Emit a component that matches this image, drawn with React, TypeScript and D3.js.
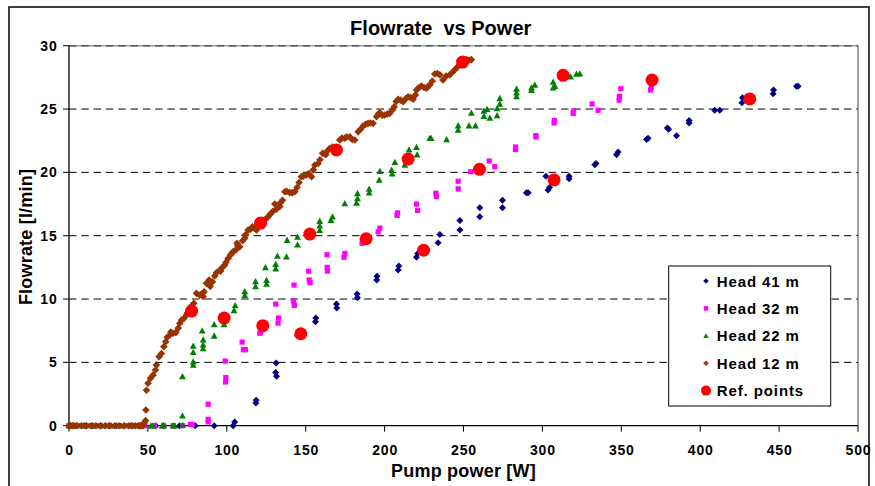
import React from "react";
import * as d3 from "d3";

// ---- data (power W, flowrate l/min) ----
const head41: [number, number][] = [
  [0,0],[2,0],[5,0],[10,0],[15,0],[20,0],[25,0],[30,0],[35,0],[40,0],[45,0],[55,0],[60,0],[70,0],[80,0],[92,0],[104,0],[105,0.3],
  [118.4,1.8],[118.6,2.0],[131.3,4.95],[131,4.2],[131.5,3.9],[144.8,7.1],[145.5,7.3],[156.2,8.2],[156.4,8.5],[169.7,9.3],[169.5,9.6],
  [182.8,10.1],[182.6,10.4],[195,11.5],[195.2,11.8],[208.6,12.3],[209,12.6],[220.2,13.3],[221,13.6],[233.9,14.45],[235,15.1],
  [247.7,15.45],[247.7,16.2],[260.3,16.5],[260.3,17.2],[274.7,17.2],[274.7,17.8],[289.9,18.4],[291,18.4],[302.2,19.7],[303.6,18.6],
  [304.5,18.8],[316.9,19.5],[316.9,19.7],[333.2,20.6],[334,20.7],[347,21.4],[348,21.6],[366,22.6],[367,22.7],[379.2,23.5],[380,23.4],
  [385,22.9],[393,23.9],[393,24.1],[409.2,24.9],[412.4,24.9],[426.4,25.5],[426.8,25.9],[446.2,26.2],[446.5,26.5],[461,26.8],[462,26.8],
];

const head32: [number, number][] = [
  [0,0],[3,0],[6,0],[12,0],[18,0],[24,0],[30,0],[36,0],[42,0],[48,0],[54,0],[60,0],[66,0],[72,0],[77,0.1],[78,0.1],
  [88.2,0.3],[88.2,0.5],[88.2,1.7],[99,5.1],[99.4,3.8],[99.2,3.45],[109.7,6.6],[110.5,6.0],[111.8,6.0],[120.9,7.3],[121.5,7.4],
  [131,9.6],[132.8,8.5],[132.5,8.1],[142.6,11.1],[142.2,9.85],[142.8,9.5],[151.8,12.2],[152.2,11.5],[152.8,11.3],[163.5,13.5],
  [163.6,12.5],[163.8,12.2],[174.3,13.3],[174.8,13.6],[185.7,14.4],[186.4,14.5],[195.9,15.3],[197,15.6],[207.9,16.6],[208.2,16.8],
  [220.2,17.5],[220.9,17.0],[232.5,18.35],[232.8,18.1],[246.6,19.3],[246.6,18.7],[254.6,20.05],[266.3,20.9],[269.8,20.45],
  [282.9,21.8],[283,22.0],[295.8,22.9],[296,22.8],[307.4,23.9],[307.6,24.1],[319.5,24.65],[319.8,24.85],[331.5,25.4],[335.3,24.9],
  [348.6,25.7],[348.8,26.0],[349.7,26.6],[368.5,26.5],[369,26.7],
];

const head22: [number, number][] = [
  [0,0],[4,0],[9,0],[15,0],[21,0],[27,0],[33,0],[39,0],[45,0],[52,0],[53,0],[59,0],[60,0],[66,0],[67,0],[72,0.05],
  [71.9,0.8],[71.9,3.9],[78.7,4.8],[78.7,5.05],[78.7,5.8],[78.7,6.3],[84.4,7.5],[85,6.8],[85,6.4],[85,6.1],[92,8.0],[92,7.1],
  [98.3,8.0],[104.6,9.1],[105.3,9.5],[111.4,10.6],[111.4,10.3],[118.2,11.4],[118.2,11.0],[124.5,12.5],[125.2,11.5],[125.2,11.2],
  [131,12.75],[131,12.4],[132.1,13.4],[137.8,13.35],[138.2,14.66],[144.8,14.9],[144.8,14.3],[152.6,15.2],[158.9,16.16],[158.9,15.8],
  [158.9,15.45],[167,16.5],[166,16.24],[174.8,17.55],[182.2,17.6],[182.8,18.35],[182.8,17.95],[190.2,18.7],[190.2,18.4],[197,20.1],
  [196.6,19.4],[204.4,20.2],[206.5,20.8],[204.8,19.9],[212.8,20.6],[215.5,21.8],[220.2,22.0],[220.6,21.4],[228.6,22.7],[229.5,22.7],
  [239.3,22.6],[246.6,23.7],[246.6,23.35],[253.5,23.7],[257.6,23.7],[255,24.7],[262.9,24.45],[262.9,24.85],[266.7,24.3],[264.9,25.0],
  [271.3,24.5],[271.3,25.05],[273,25.85],[273,25.4],[283.6,26.6],[283.6,26.0],[283.6,26.3],[293.1,26.7],[293.1,26.5],[295.2,26.9],
  [306.8,27.15],[306.8,26.7],[307.9,26.8],[317.8,27.55],[321.6,27.77],[323.7,27.8],
];

const head12: [number, number][] = [
  [0,0],[1,0],[2,0],[3,0],[5,0],[8,0],[11,0],[14,0],[17,0],[20,0],[23,0],[26,0],[29,0],[32,0],[35,0],[38,0],[40,0],[42,0],[44,0],
  [45,0],[46,0],[47,0],[47.5,0.2],[48.5,0.4],[48.7,1.24],[49.1,2.8],[50.1,3.35],[51.6,3.74],[53.3,4.0],[54.8,4.4],[55.4,4.8],
  [57.1,5.45],[58.6,5.7],[60.1,6.24],[61.3,6.63],[62.2,6.98],[63.9,7.16],[64.5,7.4],[66,7.3],[67.7,7.35],[69.2,7.7],[70.2,8.08],
  [71.3,8.34],[72.8,8.47],[74.5,8.74],[75,8.9],[76.1,9.13],[77.6,9.45],[78,9.3],[79.1,9.66],[80.8,10.45],[82.9,10.3],[84,10.4],
  [85,10.2],[85.6,10.58],[87.1,11.24],[88.8,11.5],[89.5,11.0],[90.9,11.37],[92.4,11.82],[93.4,12.08],[95.6,12.3],[96,12.2],
  [97.3,12.5],[98.7,12.69],[99.5,12.9],[100.8,13.2],[102.3,13.48],[103,13.6],[104,13.74],[105.7,13.87],[106.5,14.4],[107,14.2],
  [108.2,14.13],[110,14.6],[111.4,14.8],[112,15.1],[113.5,15.45],[115,15.5],[116.3,15.7],[117.5,15.6],[118.8,15.45],[120,15.7],
  [121.5,15.9],[123,16.0],[124.5,16.3],[126.2,16.5],[127.5,16.7],[129,16.9],[130.4,17.5],[131.5,17.1],[133.6,17.3],[134,17.6],
  [135.3,17.8],[136.8,18.47],[138,18.5],[139.9,18.4],[141.5,18.4],[143.1,18.47],[144.5,18.8],[145.8,19.2],[147.3,19.66],[148.5,19.7],
  [150.5,19.8],[152,19.9],[153.7,19.66],[154.8,20.2],[155.8,20.58],[157.9,20.7],[159,21.0],[160.7,21.5],[162.7,21.4],[163.8,21.7],
  [165.3,21.9],[167,22.0],[168.5,21.7],[170.5,21.8],[171.6,22.55],[173,22.7],[174.8,22.7],[176,22.8],[178,22.8],[179.5,22.6],
  [181.1,22.55],[183.2,23.2],[184.8,23.4],[186.4,23.66],[188,23.8],[189.5,23.87],[191,23.9],[192.7,23.87],[194.9,24.4],[196,24.6],
  [197,24.7],[198.5,24.5],[200.1,24.53],[201.7,24.6],[203.3,24.66],[204.7,24.9],[206.1,25.18],[207.3,25.6],[208.6,25.77],[210.2,25.7],
  [211.8,25.58],[213.3,25.8],[214.9,25.97],[216.5,25.9],[218.1,25.77],[219.5,26.1],[220.2,26.5],[221.8,26.7],[223.4,26.82],[225,26.7],
  [226.6,26.64],[227.6,26.8],[228.6,26.9],[230.2,27.2],[231.8,27.77],[233.4,27.8],[235,27.7],[237,27.3],[239,27.6],[241.3,27.7],
  [243,27.9],[244.5,28.1],[246,28.3],[247.7,28.5],[249.5,28.7],[251.9,28.9],[253.5,28.85],[255,28.9],
];

const refPoints: [number, number][] = [
  [77.7,9.05],[98.3,8.5],[122.8,7.9],[146.9,7.26],[121.4,16.0],[152.6,15.13],[188.3,14.76],[224.7,13.85],
  [169.5,21.77],[214.9,21.05],[260.1,20.24],[307.4,19.4],[249.4,28.71],[313.1,27.66],[369.5,27.29],[431.4,25.8],
];

const xTicks = [0, 50, 100, 150, 200, 250, 300, 350, 400, 450, 500];
const yTicks = [0, 5, 10, 15, 20, 25, 30];
const gridValues = [5, 10, 15, 20, 25];

const legendLabels = ["Head 41 m", "Head 32 m", "Head 22 m", "Head 12 m", "Ref. points"];
const chartTitle = "Flowrate  vs Power";
const xTitle = "Pump power [W]";
const yTitle = "Flowrate [l/min]";

// ---- layout ----
const W = 875;
const H = 486;
const PL = 69, PR = 858, PT = 45.7, PB = 425.7;
const FONT = "'Liberation Sans', Arial, Helvetica, sans-serif";

type Shape = "diamond" | "square" | "triangle" | "circle";

function markerPath(shape: Shape, s: number): string {
  const h = s / 2;
  if (shape === "diamond") return `M0,${-h}L${h},0L0,${h}L${-h},0Z`;
  if (shape === "square") return `M${-h},${-h}H${h}V${h}H${-h}Z`;
  if (shape === "triangle") return `M0,${-h}L${h},${h * 0.85}L${-h},${h * 0.85}Z`;
  return d3.arc()({ innerRadius: 0, outerRadius: h, startAngle: 0, endAngle: 2 * Math.PI }) as string;
}

const series = [
  { data: head41, color: "#000080", shape: "diamond" as Shape, size: 7, lsize: 5.5 },
  { data: head32, color: "#FF00FF", shape: "square" as Shape, size: 5.2, lsize: 4.5 },
  { data: head22, color: "#008000", shape: "triangle" as Shape, size: 6.8, lsize: 5.2 },
  { data: head12, color: "#993300", shape: "diamond" as Shape, size: 7.6, lsize: 5.5 },
  { data: refPoints, color: "#FF0000", shape: "circle" as Shape, size: 13, lsize: 10 },
];

export default function App() {
  const x = d3.scaleLinear().domain([0, 500]).range([PL, PR]);
  const y = d3.scaleLinear().domain([0, 30]).range([PB, PT]);

  const legX = 668.7, legY = 266, legW = 162, legH = 140;
  const legRow = 27.4;

  return (
    <svg
      width={W}
      height={H}
      style={{ position: "absolute", left: 0, top: 0, display: "block", background: "#fff" }}
    >
      <rect x={0} y={0} width={W} height={H} fill="#fff" />
      {/* outer chart border */}
      <rect x={9} y={7} width={860} height={500} fill="none" stroke="#111" strokeWidth={1.6} />

      {/* title */}
      <text
        x={440.7}
        y={34.7}
        textAnchor="middle"
        fontFamily={FONT}
        fontWeight="bold"
        fontSize={20}
        style={{ whiteSpace: "pre" }}
      >
        {chartTitle}
      </text>

      {/* plot area border (gray) */}
      <line x1={PR} x2={PR} y1={PT} y2={PB} stroke="#808080" strokeWidth={1.5} />
      <line x1={PL} x2={PR} y1={PT} y2={PT} stroke="#9a9a9a" strokeWidth={1.5} />
      <line x1={PL} x2={PR} y1={y(30)} y2={y(30)} stroke="#555" strokeWidth={1.5} strokeDasharray="7.5,4.8" />

      {/* gridlines */}
      {gridValues.map((v) => (
        <line key={v} x1={PL} x2={PR} y1={y(v)} y2={y(v)} stroke="#000" strokeWidth={1} strokeDasharray="7.5,4.8" />
      ))}

      {/* axes */}
      <line x1={PL} x2={PL} y1={PT} y2={PB} stroke="#000" strokeWidth={1.3} />
      <line x1={PL} x2={PR} y1={PB} y2={PB} stroke="#000" strokeWidth={1.3} />
      {yTicks.map((v) => (
        <g key={"y" + v}>
          <line x1={PL - 6} x2={PL} y1={y(v)} y2={y(v)} stroke="#000" strokeWidth={1} />
          <text x={57.5} y={y(v) + 5} textAnchor="end" fontFamily={FONT} fontWeight="bold" fontSize={14} letterSpacing={0.8}>
            {v}
          </text>
        </g>
      ))}
      {xTicks.map((v) => (
        <g key={"x" + v}>
          <line x1={x(v)} x2={x(v)} y1={PB} y2={PB + 6} stroke="#000" strokeWidth={1} />
          <text x={x(v) + 0.5} y={455} textAnchor="middle" fontFamily={FONT} fontWeight="bold" fontSize={14} letterSpacing={0.8}>
            {v}
          </text>
        </g>
      ))}

      {/* axis titles */}
      <text x={(PL + PR) / 2} y={477.3} textAnchor="middle" fontFamily={FONT} fontWeight="bold" fontSize={18} letterSpacing={0.2}>
        {xTitle}
      </text>
      <text
        transform={`translate(31.5,${237}) rotate(-90)`}
        textAnchor="middle"
        fontFamily={FONT}
        fontWeight="bold"
        fontSize={18}
        letterSpacing={0.2}
      >
        {yTitle}
      </text>

      {/* data */}
      {series.map((s, i) => (
        <g key={"s" + i} fill={s.color}>
          {s.data.map((d, j) => (
            <path key={j} d={markerPath(s.shape, s.size)} transform={`translate(${x(d[0])},${y(d[1])})`} />
          ))}
        </g>
      ))}

      {/* legend */}
      <rect x={legX} y={legY} width={legW} height={legH} fill="#fff" stroke="#000" strokeWidth={1} />
      {series.map((s, i) => {
        const cy = legY + 15 + i * legRow;
        return (
          <g key={"l" + i}>
            <path d={markerPath(s.shape, s.lsize)} transform={`translate(706,${cy})`} fill={s.color} />
            <text x={716.7} y={cy + 5.5} fontFamily={FONT} fontWeight="bold" fontSize={15} letterSpacing={0.9}>
              {legendLabels[i]}
            </text>
          </g>
        );
      })}
    </svg>
  );
}
